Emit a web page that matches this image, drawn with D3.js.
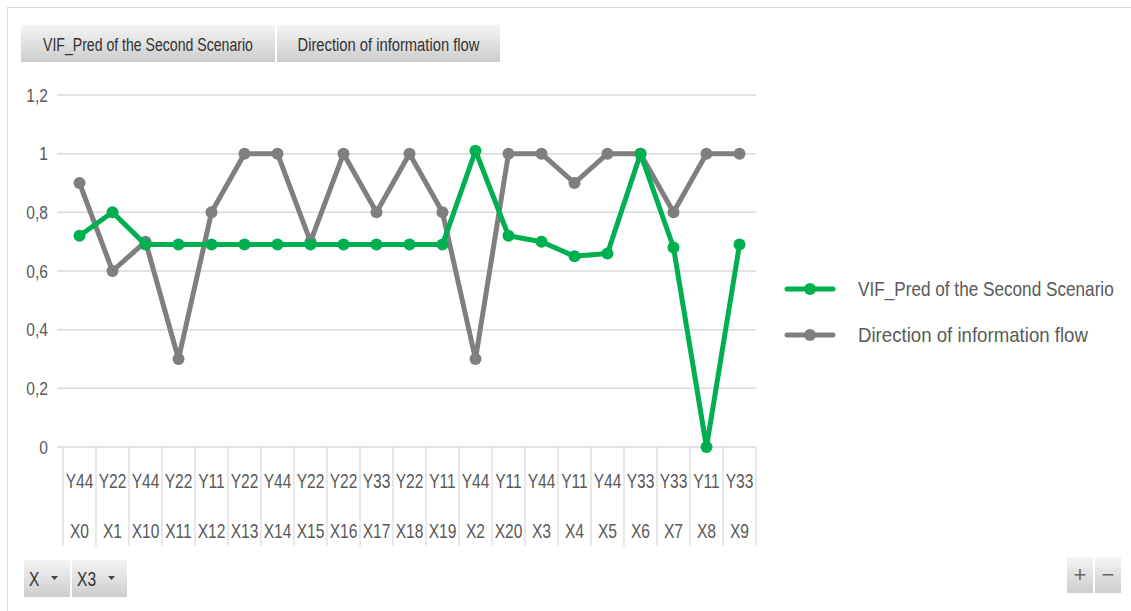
<!DOCTYPE html>
<html><head><meta charset="utf-8">
<script src="https://cdn.jsdelivr.net/npm/d3@7"></script>
<style>
body{margin:0;background:#fff;}
svg{display:block;font-family:"Liberation Sans",Arial,sans-serif;}
</style></head>
<body><svg id="c" width="1131" height="611"></svg>
<script>
const xCats = ["X0","X1","X10","X11","X12","X13","X14","X15","X16","X17","X18","X19","X2","X20","X3","X4","X5","X6","X7","X8","X9"];
const yCats = ["Y44","Y22","Y44","Y22","Y11","Y22","Y44","Y22","Y22","Y33","Y22","Y11","Y44","Y11","Y44","Y11","Y44","Y33","Y33","Y11","Y33"];
const vifPred = [0.72,0.80,0.69,0.69,0.69,0.69,0.69,0.69,0.69,0.69,0.69,0.69,1.01,0.72,0.70,0.65,0.66,1.00,0.68,0.00,0.69];
const direction = [0.9,0.6,0.7,0.3,0.8,1,1,0.7,1,0.8,1,0.8,0.3,1,1,0.9,1,1,0.8,1,1];
const yTicks = [0,0.2,0.4,0.6,0.8,1,1.2];
const yTickLabels = ["0","0,2","0,4","0,6","0,8","1","1,2"];
const seriesNames = ["VIF_Pred of the Second Scenario","Direction of information flow"];
const seriesColors = ["#00b050","#7f7f7f"];

const svg = d3.select("#c");
const W=1131,H=611;
const plot={l:63,r:756,t:95,b:447};
const textCol="#595959";
const SX=0.78; // horizontal condensing

function ctext(parent,x,y,size,anchor,txt,fill,len){
  const t=parent.append("text").attr("font-size",size).attr("text-anchor",anchor).attr("fill",fill).text(txt);
  let s=SX;
  if(len){ s=len/t.node().getComputedTextLength(); }
  t.attr("transform",`translate(${x},${y}) scale(${s},1)`);
  return t;
}

const defs=svg.append("defs");
const g1=defs.append("linearGradient").attr("id","btn").attr("x1",0).attr("y1",0).attr("x2",0).attr("y2",1);
g1.append("stop").attr("offset","0%").attr("stop-color","#f4f4f4");
g1.append("stop").attr("offset","100%").attr("stop-color","#cdcdcd");

svg.append("rect").attr("x",7.5).attr("y",7.5).attr("width",W).attr("height",H).attr("fill","none").attr("stroke","#d9d9d9");

const x=d3.scaleBand().domain(xCats.map((d,i)=>i)).range([plot.l,plot.r]);
const y=d3.scaleLinear().domain([0,1.2]).range([plot.b,plot.t]);

svg.append("g").selectAll("line").data(yTicks).join("line")
  .attr("x1",plot.l-6).attr("x2",plot.r).attr("y1",d=>y(d)).attr("y2",d=>y(d))
  .attr("stroke","#d9d9d9").attr("stroke-width",1.5);

const ya=svg.append("g").attr("transform",`translate(${plot.l-13},0)`)
  .call(d3.axisLeft(y).tickValues(yTicks).tickFormat((d,i)=>yTickLabels[i]).tickSize(0));
ya.select(".domain").remove();
ya.selectAll("text").attr("font-size",19).attr("fill",textCol).attr("font-family","Liberation Sans, sans-serif")
  .attr("transform","scale(0.82,1)").attr("x",-2/0.82);

const seps=d3.range(xCats.length+1).map(i=>plot.l+i*x.bandwidth());
svg.append("g").selectAll("line").data(seps).join("line")
  .attr("x1",d=>d).attr("x2",d=>d).attr("y1",plot.b).attr("y2",546)
  .attr("stroke","#d9d9d9").attr("stroke-width",1.2);

const gy=svg.append("g"), gx=svg.append("g");
yCats.forEach((d,i)=>ctext(gy,x(i)+x.bandwidth()/2,488,20,"middle",d,textCol));
xCats.forEach((d,i)=>ctext(gx,x(i)+x.bandwidth()/2,538,20,"middle",d,textCol));

const line=d3.line().x((d,i)=>x(i)+x.bandwidth()/2).y(d=>y(d));
[[direction,seriesColors[1]],[vifPred,seriesColors[0]]].forEach(([data,col])=>{
  svg.append("path").datum(data).attr("d",line).attr("fill","none")
    .attr("stroke",col).attr("stroke-width",5).attr("stroke-linejoin","round");
  svg.append("g").selectAll("circle").data(data).join("circle")
    .attr("cx",(d,i)=>x(i)+x.bandwidth()/2).attr("cy",d=>y(d)).attr("r",6).attr("fill",col);
});

const legY=[289,335], legLen=[256,230];
seriesNames.forEach((n,i)=>{
  const g=svg.append("g");
  g.append("line").attr("x1",787).attr("x2",833).attr("y1",legY[i]).attr("y2",legY[i])
    .attr("stroke",seriesColors[i]).attr("stroke-width",5).attr("stroke-linecap","round");
  g.append("circle").attr("cx",810).attr("cy",legY[i]).attr("r",6).attr("fill",seriesColors[i]);
  ctext(g,858,legY[i]+7,20,"start",n,textCol,legLen[i]);
});

const topBtns=[{x:21,w:254,t:seriesNames[0],len:210},{x:277,w:223,t:seriesNames[1],len:182}];
topBtns.forEach(b=>{
  svg.append("rect").attr("x",b.x).attr("y",25).attr("width",b.w).attr("height",37).attr("fill","url(#btn)");
  ctext(svg,b.x+(b.w-b.len)/2,51,19,"start",b.t,"#333",b.len);
});

const botBtns=[{x:24,w:46,t:"X"},{x:72,w:55,t:"X3"}];
botBtns.forEach(b=>{
  svg.append("rect").attr("x",b.x).attr("y",560).attr("width",b.w).attr("height",37).attr("fill","url(#btn)");
  ctext(svg,b.x+5,586,20,"start",b.t,"#333");
  svg.append("path").attr("d",`M${b.x+b.w-19},576 l7,0 l-3.5,4 z`).attr("fill","#444");
});
const pm=[{x:1067,t:"+"},{x:1095,t:"\u2212"}];
pm.forEach(b=>{
  svg.append("rect").attr("x",b.x).attr("y",557).attr("width",26).attr("height",36).attr("fill","url(#btn)");
  svg.append("text").attr("x",b.x+13).attr("y",582).attr("text-anchor","middle").attr("font-size",22).attr("fill","#666").text(b.t);
});
</script></body></html>
